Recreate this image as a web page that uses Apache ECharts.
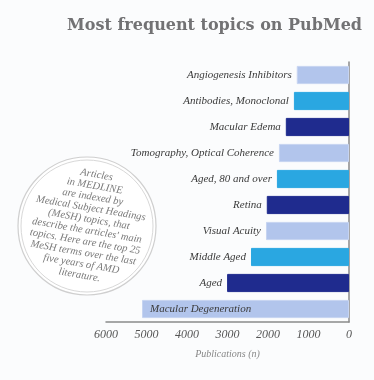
<!DOCTYPE html>
<html><head><meta charset="utf-8">
<script src="https://cdn.jsdelivr.net/npm/echarts@6/dist/echarts.min.js"></script>
<style>html,body{margin:0;padding:0;background:#fbfcfd}#c{width:374px;height:380px}</style>
</head><body><div id="c"></div>
<script>
var categories = ['Angiogenesis Inhibitors','Antibodies, Monoclonal','Macular Edema','Tomography, Optical Coherence','Aged, 80 and over','Retina','Visual Acuity','Middle Aged','Aged','Macular Degeneration'];
var values = [1290, 1360, 1560, 1730, 1780, 2030, 2050, 2420, 3010, 5110];
var tickLabels = ['0','1000','2000','3000','4000','5000','6000'];
var palette = ['#b2c5ec','#2aa7e1','#1f2b8e'];

var data = values.map(function(v,i){
  var item = {value:v, itemStyle:{color: palette[i%3], borderColor: i%3===0 ? '#c6d4f1' : palette[i%3], borderWidth: 1}};
  if (i === values.length-1) item.label = {position:'insideLeft', distance: 8};
  return item;
});

var chart = echarts.init(document.getElementById('c'));
chart.setOption({
  backgroundColor: '#fbfcfd',
  animation: false,
  title: {text:'Most frequent topics on PubMed', right: 7, top: 13,
    textStyle:{fontFamily:'DejaVu Serif', fontWeight:'bold', fontSize:16, color:'#727274'}},
  grid: {left:106, right:25, top:62, bottom:58},
  xAxis: {type:'value', inverse:true, min:0, max:6000, interval:1000,
    splitLine:{show:false}, axisTick:{show:false},
    axisLine:{show:true, lineStyle:{color:'#8a8a8a', width:1.5}},
    axisLabel:{fontFamily:'Liberation Serif', fontStyle:'italic', fontSize:12, color:'#555', margin:7,
      formatter:function(v){return tickLabels[v/1000];}},
    name:'Publications (n)', nameLocation:'middle', nameGap:27,
    nameTextStyle:{fontFamily:'Liberation Serif', fontStyle:'italic', fontSize:10, color:'#888'}},
  yAxis: {type:'category', data:categories, inverse:true, position:'right',
    axisLine:{show:true, lineStyle:{color:'#8a8a8a', width:1.5}}, axisTick:{show:false}, axisLabel:{show:false}},
  series: [{type:'bar', data:data, barCategoryGap:'30%',
    label:{show:true, position:'left', distance:5, formatter:function(p){return p.name;},
      fontFamily:'Liberation Serif', fontStyle:'italic', fontSize:11, color:'#3a3a3a'}}],
  graphic: [
    {type:'circle', shape:{cx:87, cy:226, r:69}, style:{fill:'#ffffff', stroke:'#cfcfcf', lineWidth:1.2}, z:10},
    {type:'circle', shape:{cx:87, cy:226, r:66}, style:{fill:'none', stroke:'#d8d8d8', lineWidth:1}, z:10},
    {type:'text', x:88, y:225, rotation:-0.17, z:11,
      style:{text:"Articles\nin MEDLINE\nare indexed by\nMedical Subject Headings\n(MeSH) topics, that\ndescribe the articles' main\ntopics. Here are the top 25\nMeSH terms over the last\nfive years of AMD\nliterature.",
        align:'center', verticalAlign:'middle', lineHeight:11.3,
        font:'italic 10.5px "Liberation Serif"', fill:'#7a7a7a'}}
  ]
});
</script></body></html>
